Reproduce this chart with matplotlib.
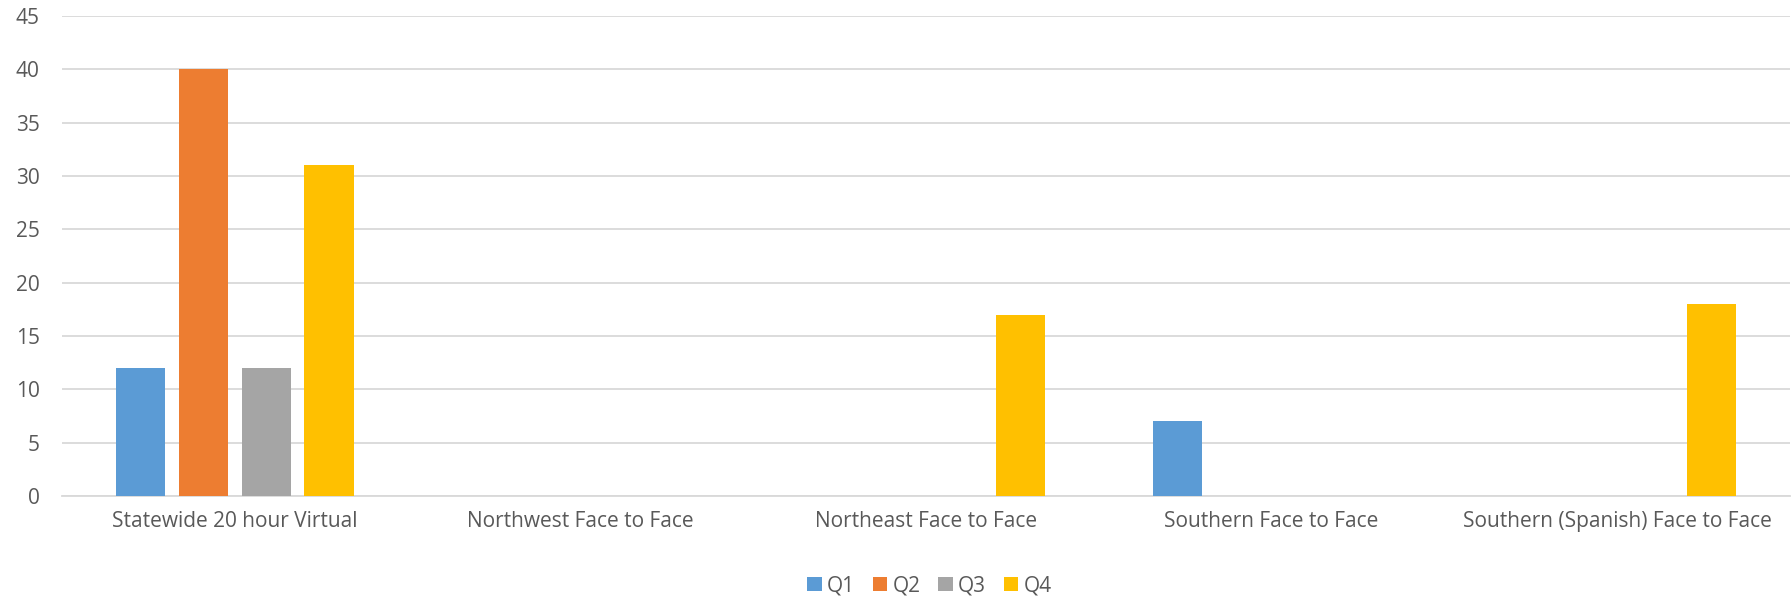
import numpy as np
import matplotlib
matplotlib.use('Agg')
import matplotlib.pyplot as plt

# Data
categories = ['Statewide 20 hour Virtual', 'Northwest Face to Face', 'Northeast Face to Face',
              'Southern Face to Face', 'Southern (Spanish) Face to Face']
quarters = ['Q1', 'Q2', 'Q3', 'Q4']
q1 = [12, 0, 0, 7, 0]
q2 = [40, 0, 0, 0, 0]
q3 = [12, 0, 0, 0, 0]
q4 = [31, 0, 17, 0, 18]
colors = ['#5B9BD5', '#ED7D31', '#A5A5A5', '#FFC000']

plt.rcParams['font.family'] = ['Open Sans', 'DejaVu Sans']
text_color = '#595959'
fs = 15

fig = plt.figure(figsize=(17.92, 5.99), dpi=100)
ax = fig.add_axes([0.0346, 0.172, 0.9643, 0.801])

x = np.arange(len(categories))
step = 0.182
width = 0.143
for i, (vals, name) in enumerate(zip([q1, q2, q3, q4], quarters)):
    ax.bar(x + (i - 1.5) * step, vals, width, color=colors[i], label=name, zorder=3)

ax.set_xlim(-0.5, len(categories) - 0.5)
ax.set_ylim(0, 45)
ax.set_yticks(range(0, 50, 5))
ax.set_xticks(x)
ax.set_xticklabels(categories)
ax.grid(axis='y', color='#D9D9D9', linewidth=1.3, zorder=0)
for s in ['top', 'right', 'left']:
    ax.spines[s].set_visible(False)
ax.spines['bottom'].set_color('#D9D9D9')
ax.spines['bottom'].set_linewidth(1.3)
ax.tick_params(axis='both', length=0, labelsize=fs, colors=text_color)
ax.tick_params(axis='x', pad=11)
ax.tick_params(axis='y', pad=16)

ax.legend(loc='center', bbox_to_anchor=(0.5187, 0.022), bbox_transform=fig.transFigure,
          ncol=4, frameon=False, fontsize=fs, labelcolor=text_color,
          handlelength=0.7, handleheight=0.7, handletextpad=0.25, columnspacing=0.85)

plt.savefig('out.png', dpi=100)
